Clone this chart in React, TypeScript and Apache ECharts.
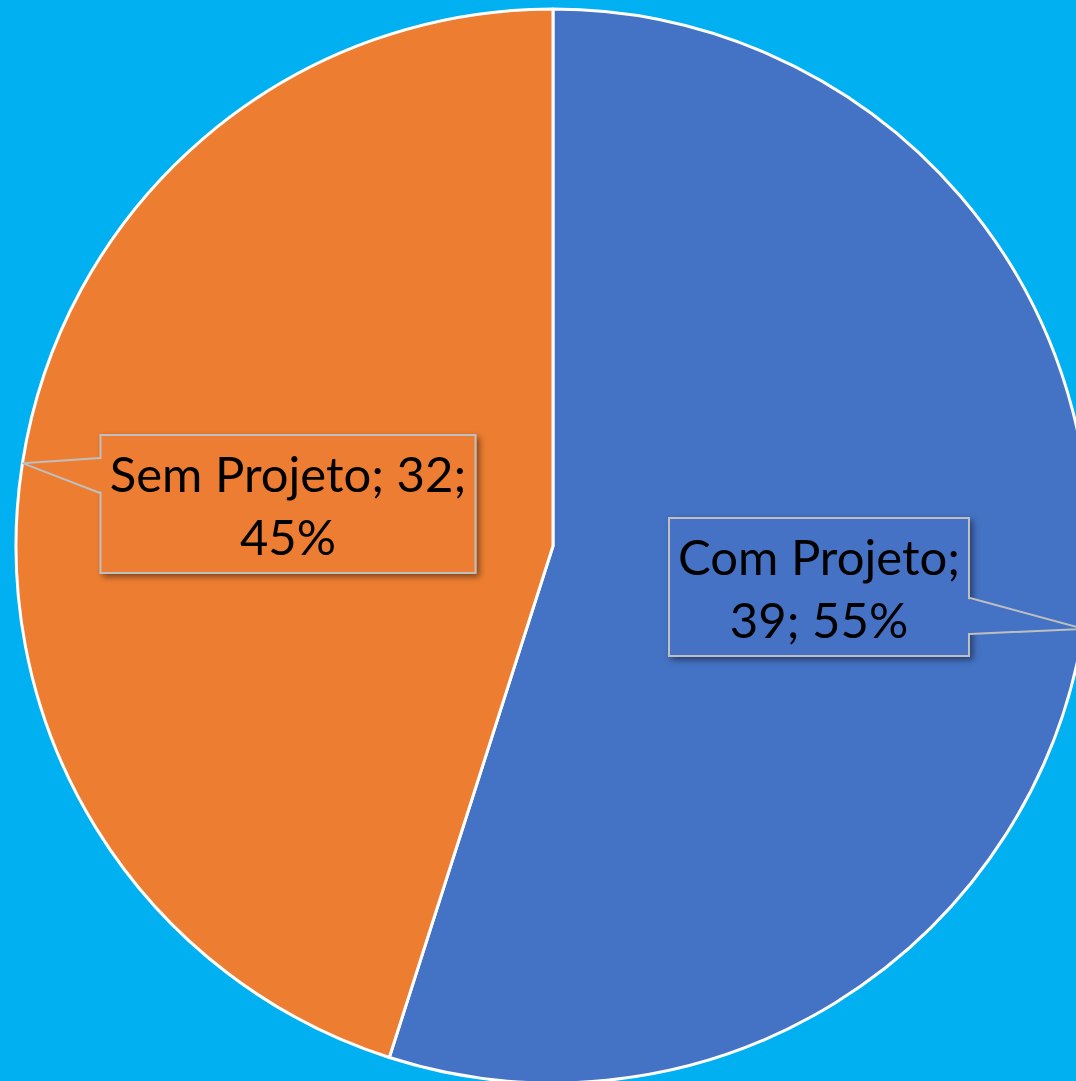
import React, { useEffect, useRef } from "react";
import * as echarts from "echarts";

const categories = ["Com Projeto", "Sem Projeto"];
const values = [39, 32];
const percents = ["55%", "45%"];
const sliceColors = ["#4472C4", "#ED7D31"];
const labelTexts = [
  `${categories[0]};\n${values[0]}; ${percents[0]}`,
  `${categories[1]}; ${values[1]};\n${percents[1]}`,
];
const labelWidths = [282, 357];
// label box centres and where the callout wedge meets the box (dir: +1 box is left of edge, -1 right)
const labelBoxes = [
  { x: 819, y: 587, ex: 970, top: 598, bottom: 634, inward: -2 },
  { x: 288, y: 504, ex: 100, top: 458, bottom: 493, inward: 2 },
];

const CX = 553;
const CY = 546;
const R = 537;
const CALLOUT_BORDER = "#BFBFBF";

function tipPoint(i: number): number[] {
  const total = values.reduce((a, b) => a + b, 0);
  let before = 0;
  for (let k = 0; k < i; k++) before += values[k];
  const frac = (before + values[i] / 2) / total;
  const ang = ((90 - frac * 360) * Math.PI) / 180;
  return [CX + R * Math.cos(ang), CY - R * Math.sin(ang)];
}

export default function App() {
  const ref = useRef<HTMLDivElement>(null);
  useEffect(() => {
    document.body.style.margin = "0";
    const chart = echarts.init(ref.current!, null, { renderer: "svg" });
    const wedges: any[] = [];
    labelBoxes.forEach((b, i) => {
      const tip = tipPoint(i);
      wedges.push({
        type: "polygon",
        z: 100,
        silent: true,
        shape: {
          points: [
            [b.ex + b.inward, b.top + 1],
            tip,
            [b.ex + b.inward, b.bottom - 1],
          ],
        },
        style: { fill: sliceColors[i], stroke: null },
      });
      wedges.push({
        type: "polyline",
        z: 101,
        silent: true,
        shape: { points: [[b.ex, b.top], tip, [b.ex, b.bottom]] },
        style: { stroke: CALLOUT_BORDER, lineWidth: 2, fill: null },
      });
    });
    chart.setOption({
      animation: false,
      backgroundColor: "#00B0F0",
      graphic: { elements: wedges },
      series: [
        {
          type: "pie",
          center: [CX, CY],
          radius: R,
          startAngle: 90,
          clockwise: true,
          avoidLabelOverlap: false,
          emphasis: { disabled: true },
          itemStyle: { borderColor: "#FFFFFF", borderWidth: 3 },
          label: {
            show: true,
            position: "outside",
            fontFamily: "Lato",
            fontSize: 49,
            lineHeight: 63,
            color: "#000000",
            align: "center",
            overflow: "none",
            borderColor: CALLOUT_BORDER,
            borderWidth: 2,
            padding: [5, 8],
            shadowColor: "rgba(0,0,0,0.45)",
            shadowBlur: 6,
            shadowOffsetX: 3,
            shadowOffsetY: 3,
          },
          labelLine: { show: false },
          labelLayout: (params: any) => {
            const b = labelBoxes[params.dataIndex];
            return {
              x: b.x,
              y: b.y,
              align: "center",
              verticalAlign: "middle",
            };
          },
          data: categories.map((name, i) => ({
            name,
            value: values[i],
            itemStyle: { color: sliceColors[i] },
            label: {
              formatter: labelTexts[i],
              width: labelWidths[i],
              backgroundColor: sliceColors[i],
            },
          })),
        },
      ],
    });
    return () => chart.dispose();
  }, []);
  return <div ref={ref} style={{ width: 1076, height: 1081 }} />;
}
